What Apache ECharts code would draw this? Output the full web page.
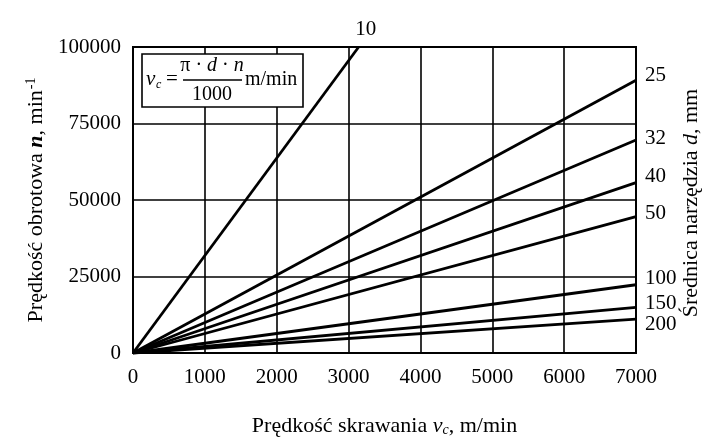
<!DOCTYPE html>
<html><head><meta charset="utf-8">
<script src="https://cdn.jsdelivr.net/npm/echarts@6/dist/echarts.min.js"></script>
<style>html,body{margin:0;padding:0;background:#fff}#c{width:724px;height:445px}</style>
</head><body><div id="c"></div>
<script>
// Tool diameters d [mm] and read end points of each line (n at vc end)
const diameters = ['10', '25', '32', '40', '50', '100', '150', '200'];
const endVc = [3140, 7000, 7000, 7000, 7000, 7000, 7000, 7000];
const endN = [100000, 89100, 69600, 55700, 44600, 22300, 14900, 11100];
const xTicks = [0, 1000, 2000, 3000, 4000, 5000, 6000, 7000];
const yTicks = [0, 25000, 50000, 75000, 100000];

// label placement (style only)
const labelPos = ['top', 'right', 'right', 'right', 'right', 'right', 'right', 'right'];
const labelOff = [[7, 2], [0, -5], [0, -2], [0, -6], [0, -3], [0, -6], [0, -4], [0, 5]];

const FONT = 'Liberation Serif';
const chart = echarts.init(document.getElementById('c'));

const series = diameters.map((d, i) => ({
  type: 'line',
  symbol: 'circle',
  symbolSize: 0.01,
  showSymbol: true,
  itemStyle: { color: '#000' },
  lineStyle: { color: '#000', width: 2.8 },
  z: 5,
  data: [
    { value: [0, 0], label: { show: false } },
    {
      value: [endVc[i], endN[i]],
      label: {
        show: true, formatter: d, position: labelPos[i], offset: labelOff[i],
        distance: 9, color: '#000', fontFamily: FONT, fontSize: 21
      }
    }
  ]
}));

chart.setOption({
  animation: false,
  backgroundColor: '#fff',
  grid: { left: 133, right: 88, top: 47, bottom: 92, show: true, borderColor: '#000', borderWidth: 2, backgroundColor: 'transparent', z: 10 },
  xAxis: {
    type: 'value', min: xTicks[0], max: xTicks[xTicks.length - 1], interval: 1000,
    axisLine: { show: true, lineStyle: { color: '#000', width: 2 } },
    axisTick: { show: false },
    axisLabel: { color: '#000', fontFamily: FONT, fontSize: 21, margin: 14, formatter: v => String(v) },
    splitLine: { show: true, lineStyle: { color: '#000', width: 1.6 } },
    name: '{t|Prędkość skrawania }{i|v}{s|c}{t|, m/min}',
    nameLocation: 'middle', nameGap: 62,
    nameTextStyle: {
      rich: {
        t: { fontFamily: FONT, fontSize: 22, color: '#000' },
        i: { fontFamily: FONT, fontSize: 22, fontStyle: 'italic', color: '#000' },
        s: { fontFamily: FONT, fontSize: 14, fontStyle: 'italic', color: '#000', verticalAlign: 'bottom', padding: [8, 0, 0, 0] }
      }
    }
  },
  yAxis: {
    type: 'value', min: yTicks[0], max: yTicks[yTicks.length - 1], interval: 25000,
    axisLine: { show: true, lineStyle: { color: '#000', width: 2 } },
    axisTick: { show: false },
    axisLabel: { color: '#000', fontFamily: FONT, fontSize: 21, margin: 12, formatter: v => String(v) },
    splitLine: { show: true, lineStyle: { color: '#000', width: 1.6 } },
    name: '{t|Prędkość obrotowa }{b|n}{t|, min}{p|-1}',
    nameLocation: 'middle', nameGap: 80, nameRotate: 90,
    nameTextStyle: {
      rich: {
        t: { fontFamily: FONT, fontSize: 22, color: '#000' },
        b: { fontFamily: FONT, fontSize: 22, fontStyle: 'italic', fontWeight: 'bold', color: '#000' },
        p: { fontFamily: FONT, fontSize: 14, color: '#000', verticalAlign: 'top', padding: [0, 0, 10, 1] }
      }
    }
  },
  graphic: [
    { type: 'rect', shape: { x: 142, y: 54, width: 161, height: 53 }, style: { fill: '#fff', stroke: '#000', lineWidth: 1.6 }, z: 100 },
    { type: 'text', x: 146, y: 79, style: { text: 'v', fontFamily: FONT, fontStyle: 'italic', fontSize: 21, fill: '#000', verticalAlign: 'middle' }, z: 101 },
    { type: 'text', x: 156, y: 85, style: { text: 'c', fontFamily: FONT, fontStyle: 'italic', fontSize: 12, fill: '#000', verticalAlign: 'middle' }, z: 101 },
    { type: 'text', x: 166, y: 79, style: { text: '=', fontFamily: FONT, fontSize: 21, fill: '#000', verticalAlign: 'middle' }, z: 101 },
    { type: 'text', x: 212, y: 66, style: { text: '{r|π · }{i|d}{r| · }{i|n}', align: 'center', verticalAlign: 'middle',
        rich: { r: { fontFamily: FONT, fontSize: 20, fill: '#000' }, i: { fontFamily: FONT, fontSize: 20, fontStyle: 'italic', fill: '#000' } } }, z: 101 },
    { type: 'line', shape: { x1: 183, y1: 80, x2: 242, y2: 80 }, style: { stroke: '#000', lineWidth: 1.5 }, z: 101 },
    { type: 'text', x: 212, y: 95, style: { text: '1000', fontFamily: FONT, fontSize: 20, fill: '#000', align: 'center', verticalAlign: 'middle' }, z: 101 },
    { type: 'text', x: 245, y: 80, style: { text: 'm/min', fontFamily: FONT, fontSize: 20, fill: '#000', verticalAlign: 'middle' }, z: 101 },
    { type: 'text', x: 691, y: 203, rotation: Math.PI / 2,
      style: { text: '{t|Średnica narzędzia }{i|d}{t|, mm}', align: 'center', verticalAlign: 'middle',
        rich: { t: { fontFamily: FONT, fontSize: 22, fill: '#000' }, i: { fontFamily: FONT, fontSize: 22, fontStyle: 'italic', fill: '#000' } } }, z: 101 }
  ],
  series: series
});
</script>
</body></html>
